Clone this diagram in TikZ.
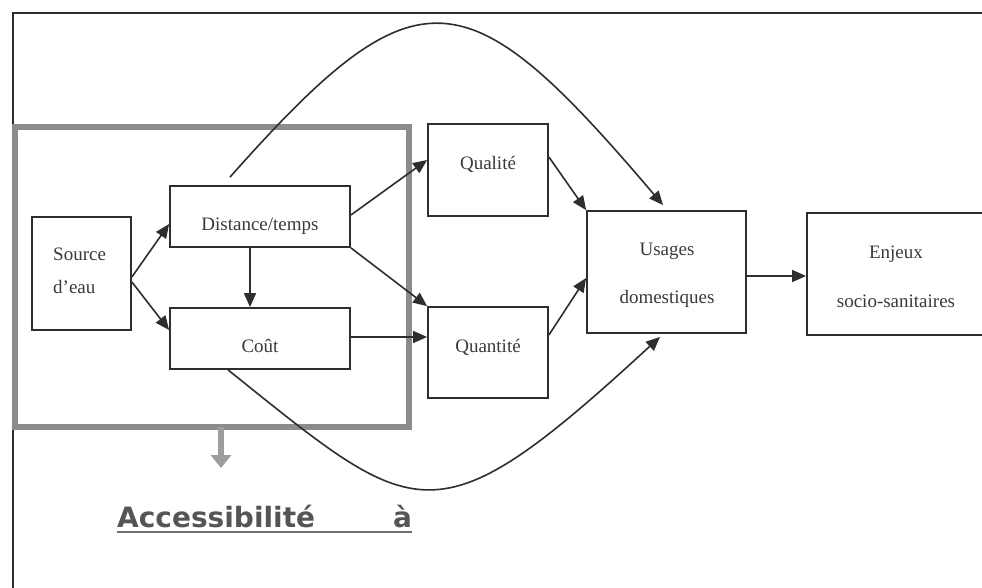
\documentclass[tikz,border=0pt]{standalone}
\usepackage{fontspec}
\setmainfont{Liberation Serif}
\newfontfamily\accfont{DejaVu Sans}
\usetikzlibrary{arrows.meta,calc}
\definecolor{ink}{HTML}{2E2E2E}
\definecolor{txt}{HTML}{3A3A3A}
\definecolor{framegrey}{HTML}{8C8C8C}
\definecolor{accgrey}{HTML}{555555}
\begin{document}
\begin{tikzpicture}[x=1pt,y=-1pt,
  box/.style={draw=ink,line width=1.8pt,inner sep=0pt},
  lbl/.style={anchor=base,inner sep=0pt,text=txt,font=\fontsize{19}{22}\selectfont},
  arr/.style={draw=ink,line width=1.6pt,-{Triangle[length=14pt,width=12pt]}},
]
\useasboundingbox (0,0) rectangle (982,588);
\fill[white] (0,0) rectangle (982,588);

% outer frame (top and left sides visible)
\coordinate (fbl) at (13,588);
\coordinate (ftr) at (990,13);
\draw[ink,line width=1.8pt] (fbl) |- (ftr);

% grey accessibility frame
\node[draw=framegrey,line width=6pt,minimum width=394pt,minimum height=300pt,inner sep=0pt] (acc) at (212,277) {};

% boxes
\node[box,minimum width=99pt,minimum height=113pt] (src) at (81.5,273.5) {};
\node[box,minimum width=180pt,minimum height=61pt] (dist) at (260,216.5) {};
\node[box,minimum width=180pt,minimum height=61pt] (cout) at (260,338.5) {};
\node[box,minimum width=120pt,minimum height=92pt] (qual) at (488,170) {};
\node[box,minimum width=120pt,minimum height=91pt] (quant) at (488,352.5) {};
\node[box,minimum width=159pt,minimum height=122pt] (usag) at (666.5,272) {};
\node[box,minimum width=178pt,minimum height=122pt] (enj) at (896,274) {};

% texts
\node[lbl,anchor=base west] (tsrc1) at (53,260) {Source};
\node[lbl,anchor=base west] (tsrc2) at (53,293) {d’eau};
\node[lbl] (tdist) at (260,230) {Distance/temps};
\node[lbl] (tcout) at (260,352) {Coût};
\node[lbl] (tqual) at (488,170) {Qualité};
\node[lbl] (tquant) at (488,352) {Quantité};
\node[lbl] (tusag1) at (667,255) {Usages};
\node[lbl] (tusag2) at (667,303) {domestiques};
\node[lbl] (tenj1) at (896,258) {Enjeux};
\node[lbl] (tenj2) at (896,307) {socio-sanitaires};

% straight arrows
\draw[arr] ([yshift=-3.5pt]src.east) -- ([yshift=-7.5pt]dist.west);
\draw[arr] ([yshift=-8.5pt]src.east) -- ([yshift=8.5pt]cout.west);
\draw[arr] ([xshift=-10pt]dist.south) -- ([xshift=-10pt]cout.north);
\draw[arr] ([yshift=1.5pt]dist.east) -- ([yshift=10pt]qual.west);
\draw[arr] (dist.south east) -- (quant.north west);
\draw[arr] ([yshift=1.5pt]cout.east) -- ([yshift=15.5pt]quant.west);
\draw[arr] ([yshift=13pt]qual.east) -- (usag.north west);
\draw[arr] ([yshift=17.5pt]quant.east) -- ([yshift=-6pt]usag.west);
\draw[arr] ([yshift=-4pt]usag.east) -- ([yshift=-2pt]enj.west);

% curved arrows
\draw[arr] ([xshift=-30pt,yshift=8pt]dist.north) .. controls +(188,-212) and +(-197,-232) .. ([xshift=-3.5pt,yshift=5pt]usag.north);
\draw[arr] ([xshift=-32pt]cout.south) .. controls +(190,152) and +(-227,209) .. ([xshift=-6.5pt,yshift=-3pt]usag.south);

% grey down arrow
\coordinate (gtip) at (221,468);
\draw[framegrey!85,line width=6pt,-{Triangle[length=13pt,width=20pt]}] ([xshift=9pt,yshift=3pt]acc.south) -- (gtip);

% Accessibilite label
\node[anchor=base west,inner sep=0pt,text=accgrey,font=\accfont\bfseries\fontsize{28}{30}\selectfont] (acct) at (117,527) {Accessibilité\hspace*{78pt}à};
\draw[accgrey!85,line width=2pt] ([yshift=-5pt]acct.base west) -- ([yshift=-5pt]acct.base east);
\end{tikzpicture}
\end{document}
